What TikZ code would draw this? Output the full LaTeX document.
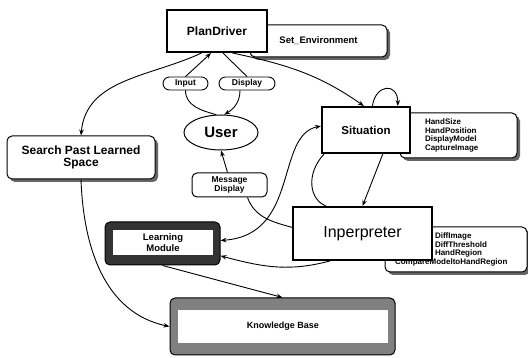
\documentclass[tikz,border=0pt]{standalone}
\usepackage{fontspec}
\setmainfont{Liberation Sans}
\usetikzlibrary{arrows.meta,shapes.geometric,shadows}
\newcommand{\fsz}[2]{\fontsize{#1}{#2}\selectfont}
\begin{document}
\begin{tikzpicture}[x=1pt,y=-1pt,
  arr/.style={line width=0.9pt,-{Stealth[length=6pt,width=4.5pt]}},
  arrboth/.style={line width=0.9pt,{Stealth[length=6pt,width=4.5pt]}-{Stealth[length=6pt,width=4.5pt]}},
  ln/.style={line width=0.9pt},
  mainbox/.style={draw,line width=2pt,fill=white,inner sep=0pt},
  roundbox/.style={draw,line width=1pt,rounded corners=5pt,fill=white,inner sep=0pt},
  shadowbox/.style={roundbox,drop shadow={shadow xshift=3pt,shadow yshift=-3pt,fill=black!70,opacity=0.85}},
  pill/.style={draw,line width=0.9pt,rounded corners=6.5pt,fill=white,inner sep=0pt,minimum height=13pt,font=\fsz{8.5}{10}\bfseries},
  attrtext/.style={font=\fsz{8}{8.5}\bfseries,align=left}
]
\path[use as bounding box,fill=white] (0,0) rectangle (528,358);

% attribute boxes (behind)
\node[shadowbox,minimum width=137pt,minimum height=32pt,font=\fsz{9.5}{11}\bfseries] (setenv) at (318.5,41) {Set\_Environment};
\node[shadowbox,minimum width=117pt,minimum height=45pt,attrtext,text width=67pt] (sitattr) at (458.5,135.5) {HandSize\\HandPosition\\DisplayModel\\CaptureImage};
\node[shadowbox,minimum width=142pt,minimum height=45pt,attrtext,text width=122pt] (intattr) at (456,249.5) {\hspace*{40pt}DiffImage\\\hspace*{40pt}DiffThreshold\\\hspace*{40pt}HandRegion\\CompareModeltoHandRegion};

% main boxes
\node[mainbox,minimum width=100pt,minimum height=42pt,font=\fsz{12}{14}\bfseries] (pd) at (217,31) {PlanDriver};
\node[mainbox,minimum width=88pt,minimum height=46pt,font=\fsz{11.5}{13}\bfseries] (sit) at (366,130) {Situation};
\node[mainbox,minimum width=139pt,minimum height=53pt,font=\fsz{16}{18}] (interp) at (362.5,233.5) {Inperpreter};

\node[pill,minimum width=45pt] (input) at (185.5,83.5) {Input};
\node[pill,minimum width=56pt] (display) at (247,83.5) {Display};
\node[draw,ellipse,line width=1pt,minimum width=74pt,minimum height=35pt,inner sep=0pt,fill=white,font=\fsz{15}{17}\bfseries] (user) at (221,132.5) {User};

\node[shadowbox,minimum width=148pt,minimum height=43pt,align=center,font=\fsz{12}{12}\bfseries] (search) at (81,157.5) {Search Past Learned\\Space};
\node[roundbox,minimum width=75pt,minimum height=24pt,align=center,font=\fsz{8.5}{9.5}\bfseries] (msg) at (229.5,185) {Message\\Display};

\node[draw,line width=1pt,rounded corners=5pt,fill=black!80,minimum width=115pt,minimum height=43pt,inner sep=0pt] (learnbg) at (162.5,243.5) {};
\node[fill=white,minimum width=100pt,minimum height=25pt,inner sep=0pt,align=center,font=\fsz{9.5}{10.5}\bfseries] (learn) at (163,242.5) {Learning\\Module};

\node[draw,line width=1pt,rounded corners=5pt,fill=black!50,minimum width=225pt,minimum height=57pt,inner sep=0pt] (kbbg) at (282.5,326.5) {};
\node[fill=white,minimum width=210pt,minimum height=33pt,inner sep=0pt,font=\fsz{9}{10}\bfseries] (kb) at (283,326.5) {Knowledge Base};

% connectors
\draw[arr] (pd.235) to[out=205,in=85] (search.north);
\draw[arr] (pd.305) to[out=-12,in=145] (sit.95);
\draw[arr] (sit.75) .. controls +(3,-22) and +(0,-24) .. (sit.37);

\draw[ln] (user.105) to[out=165,in=-90] (input.south);
\draw[arr] (input.north) -- (pd.255);
\draw[ln] (pd.285) -- (display.north);
\draw[arr] ([xshift=-7pt]display.south) to[out=-90,in=30] (user.80);

\draw[ln] (interp.175) to[out=165,in=-70] ([xshift=18pt]msg.south);
\draw[arr] ([xshift=-2pt]msg.north) -- (user.south);

\draw[arrboth] (learnbg.3) .. controls (300,235) and (275,135) .. (sit.175);
\draw[arr] (interp.220) to[out=195,in=-15] (learnbg.-12);
\draw[arr] (sit.305) -- (interp.90);
\draw[ln] ([xshift=3pt]sit.south west) .. controls (305,175) and (310,200) .. ([xshift=34pt]interp.north west);

\draw[arr] (search.south) to[out=-88,in=168] (kbbg.west);
\draw[arr] (learnbg.south) -- (kbbg.north);
\end{tikzpicture}
\end{document}
